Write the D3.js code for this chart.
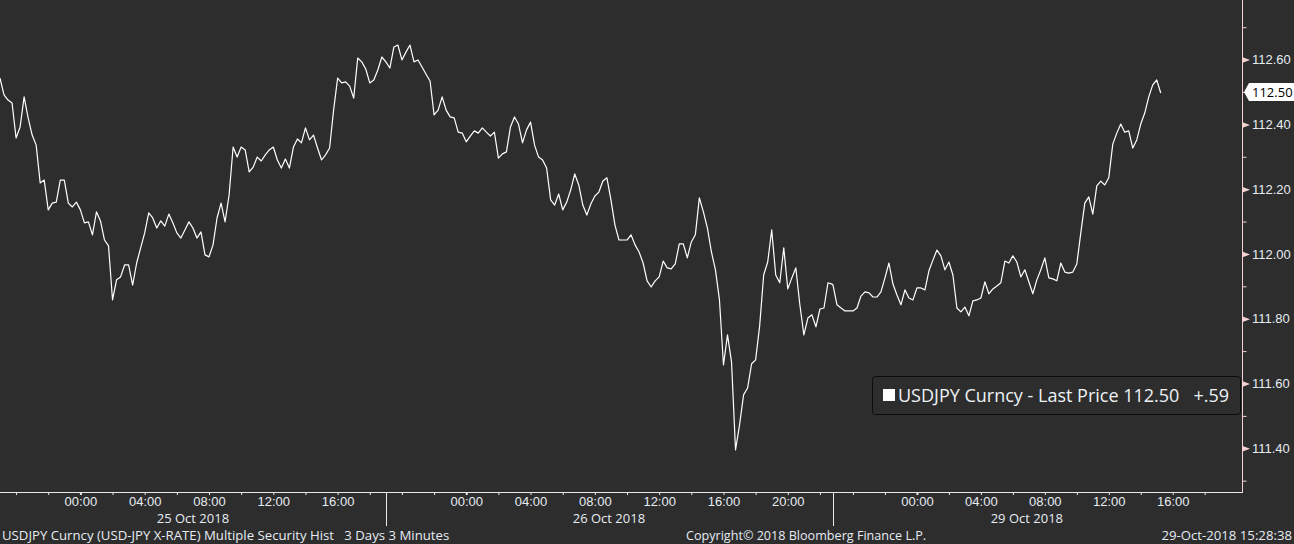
<!DOCTYPE html>
<html>
<head>
<meta charset="utf-8">
<script src="https://cdnjs.cloudflare.com/ajax/libs/d3/7.8.5/d3.min.js"></script>
<style>
  html, body { margin: 0; padding: 0; background: #2d2d2d; overflow: hidden; }
  svg { display: block; font-family: "Open Sans", "DejaVu Sans", sans-serif; }
</style>
</head>
<body>
<svg id="chart"></svg>
<script>
// USDJPY 3-day intraday, sampled every 15 minutes per session
const oct25Prices = [
  112.543, 112.491, 112.475, 112.466, 112.358, 112.392, 112.485, 112.420, 112.367, 112.336,
  112.219, 112.228, 112.136, 112.157, 112.160, 112.228, 112.228, 112.157, 112.145, 112.160,
  112.136, 112.096, 112.099, 112.059, 112.130, 112.102, 112.043, 112.025, 111.858, 111.920,
  111.929, 111.966, 111.966, 111.904, 111.972, 112.019, 112.065, 112.127, 112.111, 112.080,
  112.102, 112.086, 112.123, 112.096, 112.065, 112.049, 112.074, 112.099, 112.080, 112.049,
  112.068, 111.997, 111.991, 112.028, 112.111, 112.157, 112.099, 112.182, 112.330, 112.299,
  112.330, 112.321, 112.253, 112.268, 112.299, 112.287, 112.306, 112.321, 112.330, 112.290,
  112.265, 112.293, 112.265, 112.330, 112.355, 112.343, 112.389, 112.352, 112.367, 112.327,
  112.290, 112.306, 112.327, 112.444, 112.543, 112.528, 112.531, 112.518, 112.481, 112.605,
  112.593, 112.571, 112.528, 112.537, 112.568, 112.608
]
const oct26Prices = [
  112.593, 112.574, 112.639, 112.645, 112.599, 112.623, 112.645, 112.593, 112.599, 112.577,
  112.555, 112.534, 112.429, 112.444, 112.485, 112.444, 112.423, 112.420, 112.376, 112.373,
  112.346, 112.364, 112.380, 112.373, 112.389, 112.376, 112.364, 112.376, 112.296, 112.309,
  112.315, 112.392, 112.423, 112.401, 112.343, 112.383, 112.407, 112.336, 112.299, 112.290,
  112.265, 112.167, 112.151, 112.185, 112.136, 112.160, 112.198, 112.247, 112.213, 112.151,
  112.120, 112.154, 112.179, 112.191, 112.225, 112.235, 112.167, 112.089, 112.043, 112.043,
  112.043, 112.059, 112.028, 112.006, 111.972, 111.917, 111.898, 111.917, 111.929, 111.978,
  111.957, 111.954, 111.969, 112.031, 112.031, 111.988, 112.037, 112.059, 112.173, 112.130,
  112.080, 112.006, 111.951, 111.858, 111.657, 111.750, 111.667, 111.395, 111.472, 111.565,
  111.586, 111.661, 111.673, 111.778, 111.935, 111.975, 112.074, 111.935, 111.911, 112.019,
  111.892, 111.926, 111.957, 111.843, 111.750, 111.802, 111.812, 111.775, 111.830, 111.833,
  111.911, 111.907
]
const oct29Prices = [
  111.904, 111.843, 111.833, 111.824, 111.824, 111.824, 111.833, 111.870, 111.883, 111.880,
  111.867, 111.867, 111.883, 111.926, 111.972, 111.907, 111.873, 111.843, 111.889, 111.864,
  111.858, 111.895, 111.895, 111.889, 111.948, 111.981, 112.012, 111.994, 111.951, 111.975,
  111.935, 111.833, 111.821, 111.836, 111.809, 111.855, 111.858, 111.864, 111.914, 111.877,
  111.892, 111.901, 111.911, 111.978, 111.972, 111.994, 111.975, 111.929, 111.951, 111.914,
  111.877, 111.920, 111.951, 111.988, 111.926, 111.923, 111.917, 111.972, 111.944, 111.941,
  111.944, 111.969, 112.065, 112.157, 112.176, 112.123, 112.210, 112.225, 112.213, 112.235,
  112.339, 112.373, 112.401, 112.376, 112.380, 112.327, 112.352, 112.401, 112.435, 112.485,
  112.522, 112.537, 112.497
]

const sessionLabels = ['25 Oct 2018', '26 Oct 2018', '29 Oct 2018']
const sessionStarts = ['2018-10-24 19:00', '2018-10-25 19:00', '2018-10-28 18:45']
const sessionEnds = ['2018-10-25 19:00', '2018-10-26 22:45', '2018-10-29 19:00']
const sessionPrices = [oct25Prices, oct26Prices, oct29Prices]
const stepMinutes = 15

const majorTicks = [111.4, 111.6, 111.8, 112.0, 112.2, 112.4, 112.6]
const minorTicks = [111.3, 111.5, 111.7, 111.9, 112.1, 112.3, 112.5, 112.7]
const lastPrice = 112.50
const netChange = '+.59'
const legendText = 'USDJPY Curncy - Last Price'
const footerLeft = 'USDJPY Curncy (USD-JPY X-RATE) Multiple Security Hist   3 Days 3 Minutes'
const footerMid = 'Copyright\u00a9 2018 Bloomberg Finance L.P.'
const footerRight = '29-Oct-2018 15:28:38'

const width = 1294
const height = 544
const plotRight = 1242
const plotBottom = 492

const parse = d3.timeParse('%Y-%m-%d %H:%M')
const starts = sessionStarts.map(parse)
const ends = sessionEnds.map(parse)

let svg = d3.select('#chart').attr('width', width).attr('height', height)

svg.append('rect').attr('width', width).attr('height', height).attr('fill', '#2d2d2d')

// weekend gap collapsed: Friday close and Sunday open share one x
const axisEnd = parse('2018-10-29 20:20')
const xScale = d3.scaleTime()
    .domain([starts[0], ends[1], starts[2], axisEnd])
    .range([0, 832, 833, plotRight])

const yScale = d3.scaleLinear()
    .domain([111.265, 112.784])
    .range([plotBottom, 0])

// series
let points = []
sessionPrices.forEach((prices, s) => {
    prices.forEach((p, i) => {
        points.push({ t: d3.timeMinute.offset(starts[s], i * stepMinutes), p: p })
    })
})

const line = d3.line()
    .x(d => xScale(d.t))
    .y(d => yScale(d.p))

svg.append('path')
    .datum(points)
    .attr('fill', 'none')
    .attr('stroke', '#ffffff')
    .attr('stroke-width', 1.2)
    .attr('stroke-linejoin', 'round')
    .attr('d', line)

// bottom axis
let hourTicks = []
let labelTicks = new Set()
sessionLabels.forEach((lab, s) => {
    const day = d3.timeDay.ceil(starts[s])
    d3.timeHour.every(2).range(starts[s], ends[s]).forEach(t => {
        hourTicks.push(t)
        if (t >= day && t.getHours() % 4 === 0) labelTicks.add(+t)
    })
})

const xAxis = d3.axisBottom(xScale)
    .tickValues(hourTicks)
    .tickSize(3)
    .tickSizeOuter(0)
    .tickPadding(2)
    .tickFormat(t => labelTicks.has(+t) ? d3.timeFormat('%H:%M')(t) : '')

let gx = svg.append('g')
    .attr('transform', 'translate(0,' + plotBottom + ')')
    .call(xAxis)
gx.select('.domain').attr('stroke', '#e8e8e8').attr('d', 'M0,0.5H' + plotRight)
gx.selectAll('.tick line').attr('stroke', '#e8e8e8')
    .attr('stroke-width', t => t.getHours() === 0 ? 2 : 1)
gx.selectAll('.tick text').attr('fill', '#e6ecf2').attr('font-size', 13)

// session separators and date labels
sessionLabels.forEach((lab, s) => {
    const x0 = xScale(starts[s])
    const x1 = xScale(ends[s])
    if (s > 0) {
        svg.append('line')
            .attr('x1', Math.round(x0) + 0.5).attr('x2', Math.round(x0) + 0.5)
            .attr('y1', plotBottom).attr('y2', 526)
            .attr('stroke', '#e8e8e8')
    }
    svg.append('text')
        .attr('x', (x0 + x1) / 2)
        .attr('y', 523)
        .attr('text-anchor', 'middle')
        .attr('font-size', 13)
        .attr('fill', '#e6ecf2')
        .text(lab)
})

// right axis
const axisColor = '#f5d2d2'
svg.append('line')
    .attr('x1', plotRight + 0.5).attr('x2', plotRight + 0.5)
    .attr('y1', 0).attr('y2', plotBottom + 1)
    .attr('stroke', axisColor)

let gMinor = svg.append('g')
    .attr('transform', 'translate(' + (plotRight + 0.5) + ',0)')
    .call(d3.axisRight(yScale).tickValues(minorTicks).tickSize(4).tickFormat(''))
gMinor.select('.domain').remove()
gMinor.selectAll('.tick line').attr('stroke', axisColor)

let gy = svg.append('g')
    .attr('transform', 'translate(' + plotRight + ',0)')
    .call(d3.axisRight(yScale).tickValues(majorTicks).tickSize(0).tickPadding(10).tickFormat(d3.format('.2f')))
gy.select('.domain').remove()
gy.selectAll('.tick').append('path')
    .attr('d', 'M0,-3L8,0L0,3Z')
    .attr('fill', axisColor)
gy.selectAll('.tick text').attr('fill', '#e6ecf2').attr('font-size', 13)

// last price tag
const yLast = yScale(lastPrice)
svg.append('path')
    .attr('d', `M${plotRight + 2},${yLast}L${plotRight + 7},${yLast - 9}H${width}V${yLast + 9}H${plotRight + 7}Z`)
    .attr('fill', '#ffffff')
svg.append('text')
    .attr('x', plotRight + 10)
    .attr('y', yLast)
    .attr('dy', '0.35em')
    .attr('font-size', 13)
    .attr('fill', '#000000')
    .text(d3.format('.2f')(lastPrice))

// legend
let legend = svg.append('g')
legend.append('rect')
    .attr('x', 872.5).attr('y', 376.5)
    .attr('width', 368).attr('height', 38)
    .attr('rx', 3)
    .attr('fill', '#2d2d2d')
    .attr('stroke', '#0c0c0c')
legend.append('rect')
    .attr('x', 883).attr('y', 389)
    .attr('width', 12).attr('height', 12)
    .attr('fill', '#ffffff')
legend.append('text')
    .attr('x', 898).attr('y', 402)
    .attr('font-size', 18)
    .attr('fill', '#eef2f6')
    .attr('xml:space', 'preserve')
    .text(legendText + ' ' + d3.format('.2f')(lastPrice) + '   ' + netChange)

// footer
const footer = svg.append('g')
    .attr('font-size', 13.2)
    .attr('fill', '#e6ecf2')
footer.append('text').attr('x', 2).attr('y', 540).attr('xml:space', 'preserve').text(footerLeft)
footer.append('text').attr('x', 686).attr('y', 540).attr('font-size', 12.6).text(footerMid)
footer.append('text').attr('x', 1292).attr('y', 540).attr('text-anchor', 'end').text(footerRight)
</script>
</body>
</html>
